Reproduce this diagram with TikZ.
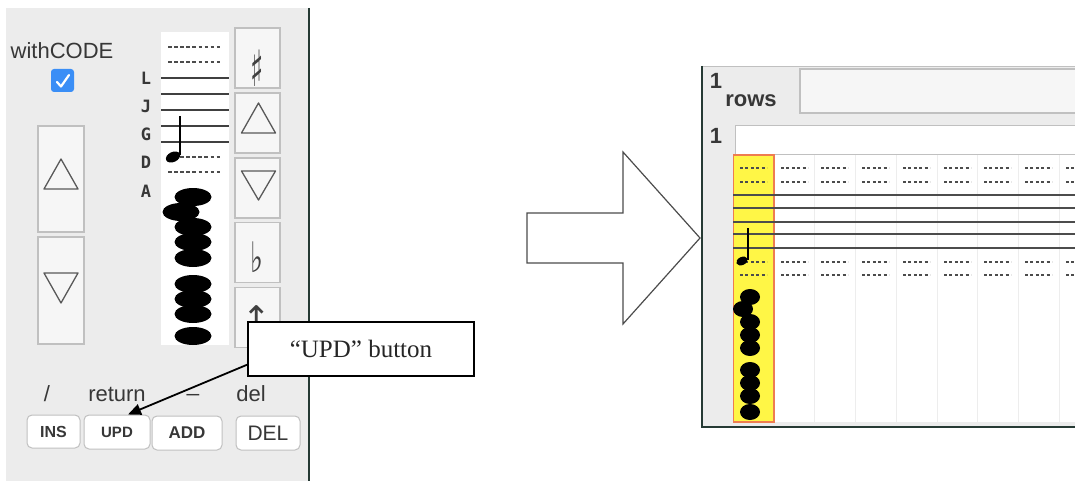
\documentclass[tikz,border=0pt]{standalone}
\usepackage{fontspec}
\setmainfont{Liberation Sans}
\newfontfamily\calloutfont{Liberation Serif}
\newfontfamily\symfont{DejaVu Sans}
\newfontfamily\notefont{DejaVu Sans Mono}
\usepackage{color}
\usepackage{tikz}
\usetikzlibrary{positioning}
\usetikzlibrary{arrows.meta}
\definecolor{panelgray}{RGB}{236,236,236}
\definecolor{btngray}{RGB}{246,246,246}
\definecolor{edgegray}{RGB}{192,192,192}
\definecolor{textgray}{RGB}{55,55,55}
\definecolor{checkblue}{RGB}{58,142,246}
\definecolor{cellyellow}{RGB}{255,246,70}
\definecolor{cellorange}{RGB}{238,125,80}
\definecolor{frameline}{RGB}{38,58,52}

\begin{document}
\begin{tikzpicture}[x=1pt,y=-1pt,
                    panelbtn/.style={draw=edgegray,fill=btngray,line width=1.2pt,
                                     minimum width=46pt,inner sep=0pt},
                    sidebtn/.style={panelbtn,minimum width=45pt,minimum height=60pt},
                    sidesym/.style={inner sep=0pt,text=black!75,font=\symfont\fontsize{#1}{#1}\selectfont},
                    keybtn/.style={draw=edgegray,fill=white,line width=1pt,rounded corners=5pt,
                                   minimum height=33pt,inner sep=0pt,text=textgray},
                    keylabel/.style={text=textgray,font=\fontsize{22}{22}\selectfont},
                    notename/.style={text=textgray,font=\notefont\bfseries\fontsize{17}{17}\selectfont},
                    tri/.style={draw=black!65,line width=1.3pt,line join=round},
                    dashrow/.style={draw=black!70,line width=1.5pt,dash pattern=on 3.5pt off 2.6pt},
                    staffrow/.style={draw=black!75,line width=1.5pt}]
 \useasboundingbox (0,0) rectangle (1075,481);

 % left panel
 \fill[panelgray] (6,8) rectangle (309,481);
 \draw[frameline,line width=2pt] (309,8) -- (309,481);
 \node[keylabel] (withcode) at (62,51) {withCODE};
 \node[fill=checkblue,rounded corners=3pt,minimum size=23pt,inner sep=0pt]
      (codebox) at (62.5,80.5) {};
 \draw[white,line width=2.2pt,line cap=round,line join=round]
      ([shift={(-5.5,1.5)}]codebox.center) -- ++(4,4.5) -- ++(8,-11.5);

 \node[panelbtn,minimum height=106pt] (upbig) at (61,179) {};
 \draw[tri] ([shift={(0,-20)}]upbig.center) -- ++(17,30) -- ++(-34,0) -- cycle;
 \node[panelbtn,minimum height=107pt] (downbig) at (61,290.5) {};
 \draw[tri] ([shift={(-17,-17.5)}]downbig.center) -- ++(34,0) -- ++(-17,30) -- cycle;

 % staff
 \node[fill=white,minimum width=68pt,minimum height=313pt,inner sep=0pt]
      (staff) at (195,188.5) {};
 \foreach \y in {47,62,172}
   \draw[dashrow] (168,\y) -- (222,\y);
 \draw[dashrow] (180,157) -- (222,157);
 \foreach \y in {78,94,110,126,142}
   \draw[staffrow] (161,\y) -- (229,\y);
 \draw[line width=1.8pt] (180,116) -- (180,155);
 \fill[rotate around={25:(173,157)}] (173,157) ellipse (7.5pt and 5pt);
 \foreach \x/\y in {193/197,181/212,193/227,193/242,193/258,
                    193/284,193/299,193/314,193/336}
   \fill (\x,\y) ellipse (18.5pt and 9pt);

 \node[notename] (noteL) at (146,78) {L};
 \node[notename] (noteJ) at (146,106) {J};
 \node[notename] (noteG) at (146,134) {G};
 \node[notename] (noteD) at (146,162) {D};
 \node[notename] (noteA) at (146,191) {A};

 \node[sidebtn] (sharpbtn) at (257.5,58) {};
 \node[sidesym=50] (sharp) at (257.5,68) {\scalebox{0.55}[1]{♯}};
 \node[sidebtn] (upbtn) at (257.5,123) {};
 \draw[tri] ([shift={(1,-20)}]upbtn.center) -- ++(17,30) -- ++(-34,0) -- cycle;
 \node[sidebtn] (downbtn) at (257.5,188) {};
 \draw[tri] ([shift={(-16,-17)}]downbtn.center) -- ++(34,0) -- ++(-17,29) -- cycle;
 \node[sidebtn] (flatbtn) at (257.5,252.5) {};
 \node[sidesym=42] (flat) at (257,257) {\scalebox{0.65}[1]{♭}};
 \node[sidebtn] (movebtn) at (257.5,317.5) {};
 \node[sidesym=34] (move) at (257,318) {↕};

 % keys
 \node[keylabel] (slashkey) at (47,394) {/};
 \node[keylabel] (returnkey) at (117,394) {return};
 \node[keylabel] (underkey) at (193,394) {\_};
 \node[keylabel] (delkey) at (251,394) {del};
 \node[keybtn,minimum width=53pt,font=\bfseries\fontsize{16}{16}\selectfont]
      (insbtn) at (53.5,431.5) {INS};
 \node[keybtn,minimum width=66pt,minimum height=34pt,font=\bfseries\fontsize{15}{15}\selectfont]
      (updbtn) at (117,432) {UPD};
 \node[keybtn,minimum width=70pt,minimum height=34pt,font=\bfseries\fontsize{17}{17}\selectfont]
      (addbtn) at (187,433) {ADD};
 \node[keybtn,minimum width=64pt,minimum height=34pt,font=\fontsize{21}{21}\selectfont]
      (delbtn) at (268,433) {DEL};

 % callout
 \node[draw,fill=white,line width=1.2pt,minimum width=226pt,minimum height=54pt,
       font=\calloutfont\fontsize{25}{25}\selectfont,text=black!85]
      (updnote) at (361,349) {“UPD” button};
 \draw[-{Triangle[length=13pt,width=11pt]},line width=1.8pt]
      ([yshift=12pt]updnote.south west) -- ([xshift=11pt]updbtn.north);

 % big arrow
 \draw[draw=black!70,line width=1.2pt,fill=white]
      (527,213) -- (623,213) -- (623,152) -- (700,238) -- (623,324)
      -- (623,263) -- (527,263) -- cycle;

 % right panel
 \fill[panelgray] (702,67) rectangle (1075,426);
 \draw[edgegray,line width=1pt] (702,67) -- (1075,67);
 \draw[frameline,line width=2.5pt] (702,66) -- (702,427) -- (1075,427);
 \node[text=textgray,font=\bfseries\fontsize{22}{22}\selectfont] (rowsnum) at (716,81) {1};
 \node[text=textgray,font=\bfseries\fontsize{22}{22}\selectfont] (rows) at (751,101) {rows};
 \draw[edgegray,line width=1.2pt,fill=btngray] (1076,69) -- (800,69) -- (800,113) -- (1076,113);
 \node[text=textgray,font=\bfseries\fontsize{22}{22}\selectfont] (colnum) at (716,136) {1};
 \draw[edgegray,line width=1pt,fill=white] (1076,126) -- (735,126) -- (735,155) -- (1076,155);

 \begin{scope}
  \clip (733,155) rectangle (1075,423);
  \fill[white] (733,155) rectangle (1075,422);
  \foreach \x in {814,855,896,937,977,1018,1059}
    \draw[black!7,line width=1pt] (\x,155) -- (\x,422);
  \draw[fill=cellyellow,draw=cellorange,line width=1.2pt] (733,155) rectangle (774,422);
  \foreach \x in {733,774,814,855,896,937,977,1018,1059}
    \foreach \y in {168,182,262,275}
      \draw[dashrow,line width=1.3pt,dash pattern=on 3pt off 2.4pt] (\x+7,\y) -- (\x+34,\y);
  \foreach \y in {195,208,222,234,248}
    \draw[staffrow,draw=black!70] (733,\y) -- (1075,\y);
 \end{scope}
 \draw[line width=1.2pt] (748,228) -- (748,260);
 \fill[rotate around={25:(742,261)}] (742,261) ellipse (6pt and 4pt);
 \foreach \x/\y in {750/297,743/309,750/322,750/335,750/348,
                    750/370,750/383,750/396,750/412}
   \fill (\x,\y) ellipse (10pt and 8pt);
\end{tikzpicture}
\end{document}
